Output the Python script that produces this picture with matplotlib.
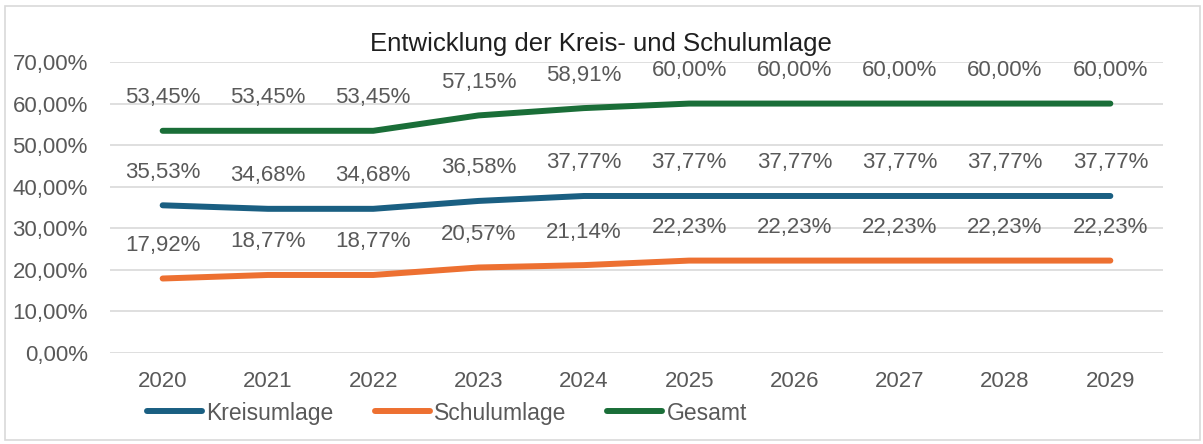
import matplotlib.pyplot as plt
from matplotlib.patches import Rectangle

jahre = ['2020', '2021', '2022', '2023', '2024', '2025', '2026', '2027', '2028', '2029']
kreisumlage = [35.53, 34.68, 34.68, 36.58, 37.77, 37.77, 37.77, 37.77, 37.77, 37.77]
schulumlage = [17.92, 18.77, 18.77, 20.57, 21.14, 22.23, 22.23, 22.23, 22.23, 22.23]
gesamt = [53.45, 53.45, 53.45, 57.15, 58.91, 60.00, 60.00, 60.00, 60.00, 60.00]
y_ticks = [0, 10, 20, 30, 40, 50, 60, 70]

grau = '#595959'
plt.rcParams['font.family'] = ['Liberation Sans', 'DejaVu Sans']

def pct(v):
    return f"{v:.2f}".replace('.', ',') + '%'

fig = plt.figure(figsize=(12.03, 4.44), dpi=100)
fig.patches.append(Rectangle((5 / 1203, 4 / 444), 1195 / 1203, 434 / 444,
                             transform=fig.transFigure, fill=False,
                             edgecolor='#d9d9d9', linewidth=1.2))
ax = fig.add_axes([110 / 1203, 91 / 444, 1053 / 1203, 291 / 444])

x = list(range(len(jahre)))
reihen = [('Kreisumlage', kreisumlage, '#1a5f82'),
          ('Schulumlage', schulumlage, '#ed7031'),
          ('Gesamt', gesamt, '#1a6e38')]
for name, werte, farbe in reihen:
    ax.plot(x, werte, color=farbe, linewidth=4.3, solid_capstyle='round',
            solid_joinstyle='round', label=name, zorder=3)
    for xi, v in zip(x, werte):
        ax.annotate(pct(v), (xi, v), xytext=(0, 33), textcoords='offset pixels',
                    ha='center', va='center', fontsize=16, color=grau)

ax.set_xlim(-0.5, len(jahre) - 0.5)
ax.set_ylim(0, 70)
ax.set_yticks(y_ticks)
ax.set_yticklabels([pct(t) for t in y_ticks])
ax.set_xticks(x)
ax.set_xticklabels(jahre)
ax.tick_params(length=0, labelsize=16, labelcolor=grau)
ax.tick_params(axis='x', pad=13)
ax.tick_params(axis='y', pad=16)
ax.grid(axis='y', color='#d9d9d9', linewidth=1.2)
ax.set_axisbelow(True)
for s in ax.spines.values():
    s.set_visible(False)

fig.text(601 / 1203, (444 - 44) / 444, 'Entwicklung der Kreis- und Schulumlage',
         ha='center', va='center', fontsize=18.5, color='#1f1f1f')

fig.legend(loc='center left', bbox_to_anchor=(147 / 1203, 31 / 444), ncol=3,
           frameon=False, fontsize=16.5, labelcolor=grau, handlelength=2.4,
           handletextpad=0.18, columnspacing=1.8, borderaxespad=0, borderpad=0)

fig.savefig('out.png', dpi=100)
